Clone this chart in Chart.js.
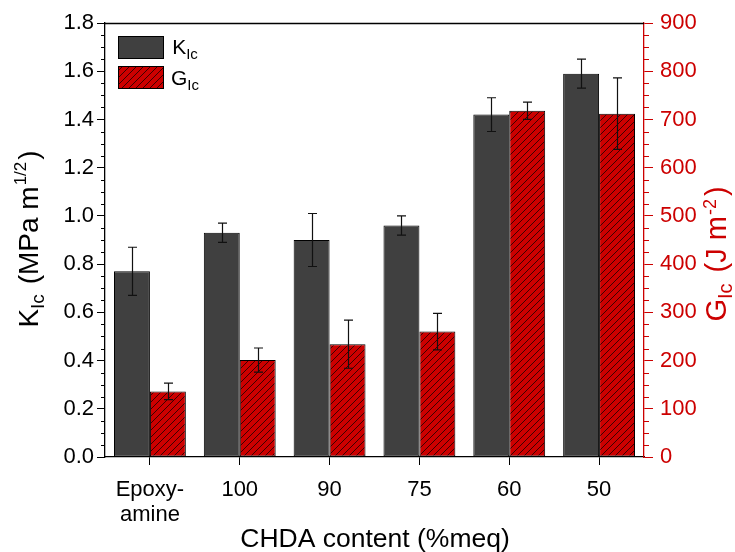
<!DOCTYPE html>
<html>
<head>
<meta charset="utf-8">
<script src="https://cdn.jsdelivr.net/npm/chart.js@4"></script>
<style>
html,body{margin:0;padding:0;background:#fff;}
#wrap{width:735px;height:552px;position:relative;}
</style>
</head>
<body>
<div id="wrap"><canvas id="c" width="735" height="552"></canvas></div>
<script>
// ---- data ----
const categories = [['Epoxy-', 'amine'], '100', '90', '75', '60', '50'];
const kIc = [0.77, 0.93, 0.90, 0.96, 1.42, 1.59];
const kIcErr = [0.10, 0.04, 0.11, 0.04, 0.07, 0.06];
const gIc = [136, 201, 234, 260, 718, 712];
const gIcErr = [17, 25, 50, 38, 18, 74];
const kAxisRange = [0, 1.8];
const kAxisStep = 0.2;
const kMinorStep = 0.05;
const gAxisRange = [0, 900];
const gAxisStep = 100;
const gMinorStep = 25;

const FONT = "'Liberation Sans', Arial, sans-serif";
const RED = '#cc0000';
const DARK = '#404040';

function hatch() {
  const s = 7;
  const c = document.createElement('canvas');
  c.width = s; c.height = s;
  const x = c.getContext('2d');
  x.fillStyle = RED; x.fillRect(0, 0, s, s);
  x.strokeStyle = '#000'; x.lineWidth = 0.7;
  x.beginPath();
  x.moveTo(-1, s + 1); x.lineTo(s + 1, -1);
  x.moveTo(-1, 1); x.lineTo(1, -1);
  x.moveTo(s - 1, s + 1); x.lineTo(s + 1, s - 1);
  x.stroke();
  return x.createPattern(c, 'repeat');
}
const hatchPattern = hatch();

function drawRich(ctx, parts, cx, cy, color, rotate) {
  ctx.save();
  ctx.translate(cx, cy);
  if (rotate) ctx.rotate(-Math.PI / 2);
  ctx.fillStyle = color;
  ctx.textBaseline = 'alphabetic';
  ctx.textAlign = 'left';
  let w = 0;
  parts.forEach(p => { ctx.font = p.size + 'px ' + FONT; w += ctx.measureText(p.t).width + (p.gap || 0); });
  let x = -w / 2;
  const base = parts[0].size * 0.36;
  parts.forEach(p => {
    ctx.font = p.size + 'px ' + FONT;
    ctx.fillText(p.t, x, base + (p.dy || 0));
    x += ctx.measureText(p.t).width + (p.gap || 0);
  });
  ctx.restore();
}

const decor = {
  id: 'decor',
  afterDatasetsDraw(chart) {
    const ctx = chart.ctx;
    const yk = chart.scales.yk, yg = chart.scales.yg;
    const errs = [kIcErr, gIcErr];
    const vals = [kIc, gIc];
    const scs = [yk, yg];
    ctx.save();
    ctx.strokeStyle = '#111';
    ctx.lineWidth = 1.2;
    [0, 1].forEach(d => {
      const meta = chart.getDatasetMeta(d);
      meta.data.forEach((bar, i) => {
        const x = Math.round(bar.x) + 0.5;
        const t = scs[d].getPixelForValue(vals[d][i] + errs[d][i]);
        const b = scs[d].getPixelForValue(vals[d][i] - errs[d][i]);
        ctx.beginPath();
        ctx.moveTo(x, t); ctx.lineTo(x, b);
        ctx.moveTo(x - 4.5, t); ctx.lineTo(x + 4.5, t);
        ctx.moveTo(x - 4.5, b); ctx.lineTo(x + 4.5, b);
        ctx.stroke();
      });
    });
    ctx.restore();
  },
  afterDraw(chart) {
    const ctx = chart.ctx;
    const a = chart.chartArea;
    const yk = chart.scales.yk, yg = chart.scales.yg;
    ctx.save();
    ctx.strokeStyle = '#000'; ctx.lineWidth = 1.3;
    ctx.beginPath(); ctx.moveTo(a.left, a.top + 0.5); ctx.lineTo(a.right, a.top + 0.5); ctx.stroke();
    ctx.lineWidth = 1;
    ctx.beginPath();
    const nk = Math.round((kAxisRange[1] - kAxisRange[0]) / kMinorStep);
    const per = Math.round(kAxisStep / kMinorStep);
    for (let i = 0; i <= nk; i++) {
      if (i % per === 0) continue;
      const y = Math.round(yk.getPixelForValue(kAxisRange[0] + i * kMinorStep)) + 0.5;
      ctx.moveTo(a.left - 4, y); ctx.lineTo(a.left, y);
    }
    ctx.stroke();
    ctx.strokeStyle = RED;
    ctx.beginPath();
    const ng = Math.round((gAxisRange[1] - gAxisRange[0]) / gMinorStep);
    const perg = Math.round(gAxisStep / gMinorStep);
    for (let i = 0; i <= ng; i++) {
      if (i % perg === 0) continue;
      const y = Math.round(yg.getPixelForValue(gAxisRange[0] + i * gMinorStep)) + 0.5;
      ctx.moveTo(a.right, y); ctx.lineTo(a.right + 5, y);
    }
    ctx.stroke();
    // legend
    ctx.fillStyle = DARK; ctx.fillRect(118, 36, 45, 22);
    ctx.strokeStyle = '#000'; ctx.lineWidth = 1;
    ctx.strokeRect(118.5, 36.5, 45, 22);
    ctx.fillStyle = hatchPattern; ctx.fillRect(118, 66, 45, 22);
    ctx.strokeRect(118.5, 66.5, 45, 22);
    ctx.restore();
    drawRich(ctx, [{t: 'K', size: 21}, {t: 'Ic', size: 15, dy: 5}], 185, 46, '#000', false);
    drawRich(ctx, [{t: 'G', size: 21}, {t: 'Ic', size: 15, dy: 5}], 185, 77, '#000', false);
    // axis titles
    drawRich(ctx, [{t: 'K', size: 28}, {t: 'Ic', size: 19, dy: 6, gap: 2}, {t: ' (MPa m', size: 28, gap: 1}, {t: '1/2', size: 17, dy: -12, gap: 2}, {t: ')', size: 28}], 28, 239, '#000', true);
    drawRich(ctx, [{t: 'G', size: 29}, {t: 'Ic', size: 20, dy: 6, gap: 3}, {t: ' (J m', size: 29, gap: 1}, {t: '-2', size: 18, dy: -10, gap: 3}, {t: ')', size: 29}], 716, 254, RED, true);
    drawRich(ctx, [{t: 'CHDA content (%meq)', size: 26.5}], 375, 537, '#000', false);
  }
};

new Chart(document.getElementById('c'), {
  type: 'bar',
  data: {
    labels: categories,
    datasets: [
      {label: 'KIc', data: kIc, yAxisID: 'yk', backgroundColor: DARK, borderColor: '#000', borderWidth: 1, borderSkipped: false, categoryPercentage: 0.8, barPercentage: 1.0},
      {label: 'GIc', data: gIc, yAxisID: 'yg', backgroundColor: hatchPattern, borderColor: '#000', borderWidth: 1, borderSkipped: false, categoryPercentage: 0.8, barPercentage: 1.0}
    ]
  },
  options: {
    responsive: false,
    devicePixelRatio: 1,
    animation: false,
    layout: {padding: {top: 23, left: 0, right: 0, bottom: 0}},
    plugins: {legend: {display: false}, tooltip: {enabled: false}},
    scales: {
      x: {
        offset: true,
        grid: {offset: false, drawOnChartArea: false, drawTicks: true, tickLength: 8, color: '#000', tickColor: '#000'},
        border: {color: '#000', width: 1.3},
        ticks: {color: '#000', font: {family: FONT, size: 22, lineHeight: 1.15}, padding: 12, maxRotation: 0, autoSkip: false},
        afterFit(s) { s.height = 95; }
      },
      yk: {
        position: 'left',
        min: kAxisRange[0], max: kAxisRange[1],
        grid: {drawOnChartArea: false, tickLength: 8, tickColor: '#000'},
        border: {color: '#000', width: 1.3},
        ticks: {stepSize: kAxisStep, color: '#000', font: {family: FONT, size: 22}, padding: 3, callback: v => Number(v).toFixed(1)},
        afterFit(s) { s.width = 105; }
      },
      yg: {
        position: 'right',
        min: gAxisRange[0], max: gAxisRange[1],
        grid: {drawOnChartArea: false, tickLength: 9, tickColor: RED},
        border: {color: RED, width: 1.3},
        ticks: {stepSize: gAxisStep, color: RED, font: {family: FONT, size: 22}, padding: 7},
        afterFit(s) { s.width = 91; }
      }
    }
  },
  plugins: [decor]
});
</script>
</body>
</html>
